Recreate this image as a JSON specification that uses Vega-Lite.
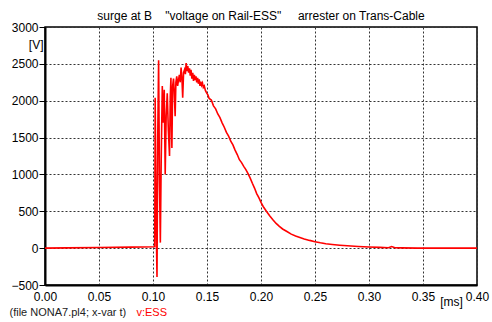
{
  "$schema": "https://vega.github.io/schema/vega-lite/v6.json",
  "width": 432,
  "height": 258,
  "autosize": {"type": "none"},
  "padding": {"left": 45, "top": 27, "right": 15, "bottom": 37},
  "background": "white",
  "config": {
    "view": {"stroke": "#000", "strokeWidth": 1.5},
    "font": "Liberation Sans"
  },
  "title": {
    "text": "surge at B\u00a0\u00a0\u00a0\u00a0\"voltage on Rail-ESS\"\u00a0\u00a0\u00a0\u00a0\u00a0arrester on Trans-Cable",
    "fontSize": 12, "fontWeight": "normal", "color": "#000", "font": "Liberation Sans",
    "anchor": "middle", "offset": 1, "dy": 3
  },
  "resolve": {"axis": {"x": "independent", "y": "independent"}},
  "layer": [
    {
      "data": {"values": [
        {"t": 0.0, "v": 0}, {"t": 0.02, "v": 3}, {"t": 0.05, "v": 8}, {"t": 0.08, "v": 14},
        {"t": 0.101, "v": 18}, {"t": 0.1016, "v": 20}, {"t": 0.102, "v": 2040}, {"t": 0.103, "v": 300},
        {"t": 0.1037, "v": -390}, {"t": 0.1044, "v": 1500}, {"t": 0.1052, "v": 2550}, {"t": 0.106, "v": 900},
        {"t": 0.1068, "v": 75}, {"t": 0.1076, "v": 1200}, {"t": 0.1086, "v": 2200}, {"t": 0.1095, "v": 1700},
        {"t": 0.1104, "v": 2150}, {"t": 0.1113, "v": 1000}, {"t": 0.1122, "v": 1800}, {"t": 0.1132, "v": 2100},
        {"t": 0.1142, "v": 1600}, {"t": 0.1153, "v": 1250}, {"t": 0.116, "v": 2050}, {"t": 0.1166, "v": 2310},
        {"t": 0.117, "v": 1800}, {"t": 0.1175, "v": 1360}, {"t": 0.1182, "v": 2200}, {"t": 0.119, "v": 2300},
        {"t": 0.1196, "v": 2150}, {"t": 0.1205, "v": 1790}, {"t": 0.1212, "v": 2250}, {"t": 0.122, "v": 2330},
        {"t": 0.1228, "v": 2200}, {"t": 0.1236, "v": 2280}, {"t": 0.1244, "v": 2350}, {"t": 0.1252, "v": 2250},
        {"t": 0.126, "v": 2450}, {"t": 0.1268, "v": 2300}, {"t": 0.1275, "v": 2040}, {"t": 0.1283, "v": 2380},
        {"t": 0.1292, "v": 2420}, {"t": 0.13, "v": 2360}, {"t": 0.1307, "v": 2510}, {"t": 0.1315, "v": 2400},
        {"t": 0.1322, "v": 2470}, {"t": 0.133, "v": 2380}, {"t": 0.1338, "v": 2440}, {"t": 0.1345, "v": 2340},
        {"t": 0.1352, "v": 2420}, {"t": 0.136, "v": 2300}, {"t": 0.1368, "v": 2380}, {"t": 0.1375, "v": 2270},
        {"t": 0.1383, "v": 2350}, {"t": 0.139, "v": 2280}, {"t": 0.1398, "v": 2330}, {"t": 0.1405, "v": 2250},
        {"t": 0.1413, "v": 2310}, {"t": 0.142, "v": 2230}, {"t": 0.1428, "v": 2290}, {"t": 0.1435, "v": 2200},
        {"t": 0.1443, "v": 2260}, {"t": 0.145, "v": 2210}, {"t": 0.1458, "v": 2240}, {"t": 0.1466, "v": 2180},
        {"t": 0.1475, "v": 2200}, {"t": 0.1485, "v": 2140}, {"t": 0.1495, "v": 2110}, {"t": 0.1508, "v": 2080},
        {"t": 0.152, "v": 2030}, {"t": 0.154, "v": 2010}, {"t": 0.156, "v": 1930}, {"t": 0.158, "v": 1890},
        {"t": 0.16, "v": 1820}, {"t": 0.162, "v": 1770}, {"t": 0.164, "v": 1700}, {"t": 0.166, "v": 1640},
        {"t": 0.168, "v": 1570}, {"t": 0.17, "v": 1520}, {"t": 0.172, "v": 1450}, {"t": 0.174, "v": 1400},
        {"t": 0.176, "v": 1330}, {"t": 0.178, "v": 1270}, {"t": 0.18, "v": 1200}, {"t": 0.182, "v": 1160},
        {"t": 0.184, "v": 1110}, {"t": 0.186, "v": 1065}, {"t": 0.188, "v": 1010}, {"t": 0.19, "v": 950},
        {"t": 0.192, "v": 880}, {"t": 0.194, "v": 815}, {"t": 0.196, "v": 740}, {"t": 0.198, "v": 685},
        {"t": 0.2, "v": 620}, {"t": 0.202, "v": 565}, {"t": 0.205, "v": 500}, {"t": 0.208, "v": 440},
        {"t": 0.211, "v": 385}, {"t": 0.214, "v": 335}, {"t": 0.217, "v": 295}, {"t": 0.22, "v": 260},
        {"t": 0.224, "v": 225}, {"t": 0.228, "v": 190}, {"t": 0.232, "v": 165}, {"t": 0.236, "v": 145},
        {"t": 0.24, "v": 125}, {"t": 0.245, "v": 105}, {"t": 0.25, "v": 88}, {"t": 0.255, "v": 72},
        {"t": 0.26, "v": 60}, {"t": 0.266, "v": 50}, {"t": 0.273, "v": 40}, {"t": 0.28, "v": 32},
        {"t": 0.29, "v": 22}, {"t": 0.3, "v": 15}, {"t": 0.31, "v": 10}, {"t": 0.318, "v": 6},
        {"t": 0.321, "v": 22}, {"t": 0.324, "v": 5}, {"t": 0.33, "v": 3}, {"t": 0.345, "v": 0},
        {"t": 0.4, "v": 0}
      ]},
      "mark": {"type": "line", "color": "#ff0000", "strokeWidth": 1.6, "clip": true},
      "encoding": {
        "x": {"field": "t", "type": "quantitative",
          "scale": {"domain": [0, 0.4], "nice": false, "zero": false},
          "axis": {
            "values": [0, 0.05, 0.1, 0.15, 0.2, 0.25, 0.3, 0.35, 0.4], "format": ".2f",
            "title": "[ms]", "titleX": 406, "titleY": 16, "titleAlign": "center", "titleBaseline": "middle",
            "titleFontSize": 12, "titleFontWeight": "normal", "titleColor": "#000", "titleFont": "Liberation Sans",
            "ticks": false, "labelPadding": 6, "labelFlush": false, "labelOverlap": false,
            "labelFontSize": 12, "labelColor": "#000", "labelFont": "Liberation Sans",
            "domainColor": "#000", "domainWidth": 2,
            "grid": true, "gridColor": "#333333", "gridDash": [2, 2], "gridWidth": 1
          }
        },
        "y": {"field": "v", "type": "quantitative",
          "scale": {"domain": [-500, 3000], "nice": false, "zero": false},
          "axis": {
            "values": [-500, 0, 500, 1000, 1500, 2000, 2500, 3000], "format": "d",
            "title": "[V]", "titleAngle": 0, "titleX": -2, "titleY": 17, "titleAlign": "right", "titleBaseline": "middle",
            "titleFontSize": 12, "titleFontWeight": "normal", "titleColor": "#000", "titleFont": "Liberation Sans",
            "tickSize": 6, "tickColor": "#000", "labelPadding": 1, "labelFlush": false, "labelOverlap": false,
            "labelFontSize": 12, "labelColor": "#000", "labelFont": "Liberation Sans",
            "domainColor": "#000", "domainWidth": 2,
            "grid": true, "gridColor": "#333333", "gridDash": [2, 2], "gridWidth": 1
          }
        }
      }
    },
    {
      "data": {"values": [{"label": "(file NONA7.pl4; x-var t)"}]},
      "mark": {"type": "text", "align": "left", "baseline": "middle", "fontSize": 11, "color": "#222", "font": "Liberation Sans"},
      "encoding": {
        "x": {"datum": -0.0329, "type": "quantitative", "scale": {"domain": [0, 0.4], "nice": false, "zero": false}, "axis": null},
        "y": {"datum": -885, "type": "quantitative", "scale": {"domain": [-500, 3000], "nice": false, "zero": false}, "axis": null},
        "text": {"field": "label"}
      }
    },
    {
      "data": {"values": [{"label": "v:ESS"}]},
      "mark": {"type": "text", "align": "left", "baseline": "middle", "fontSize": 11, "color": "#ff0000", "font": "Liberation Sans"},
      "encoding": {
        "x": {"datum": 0.0847, "type": "quantitative", "scale": {"domain": [0, 0.4], "nice": false, "zero": false}, "axis": null},
        "y": {"datum": -885, "type": "quantitative", "scale": {"domain": [-500, 3000], "nice": false, "zero": false}, "axis": null},
        "text": {"field": "label"}
      }
    }
  ]
}
